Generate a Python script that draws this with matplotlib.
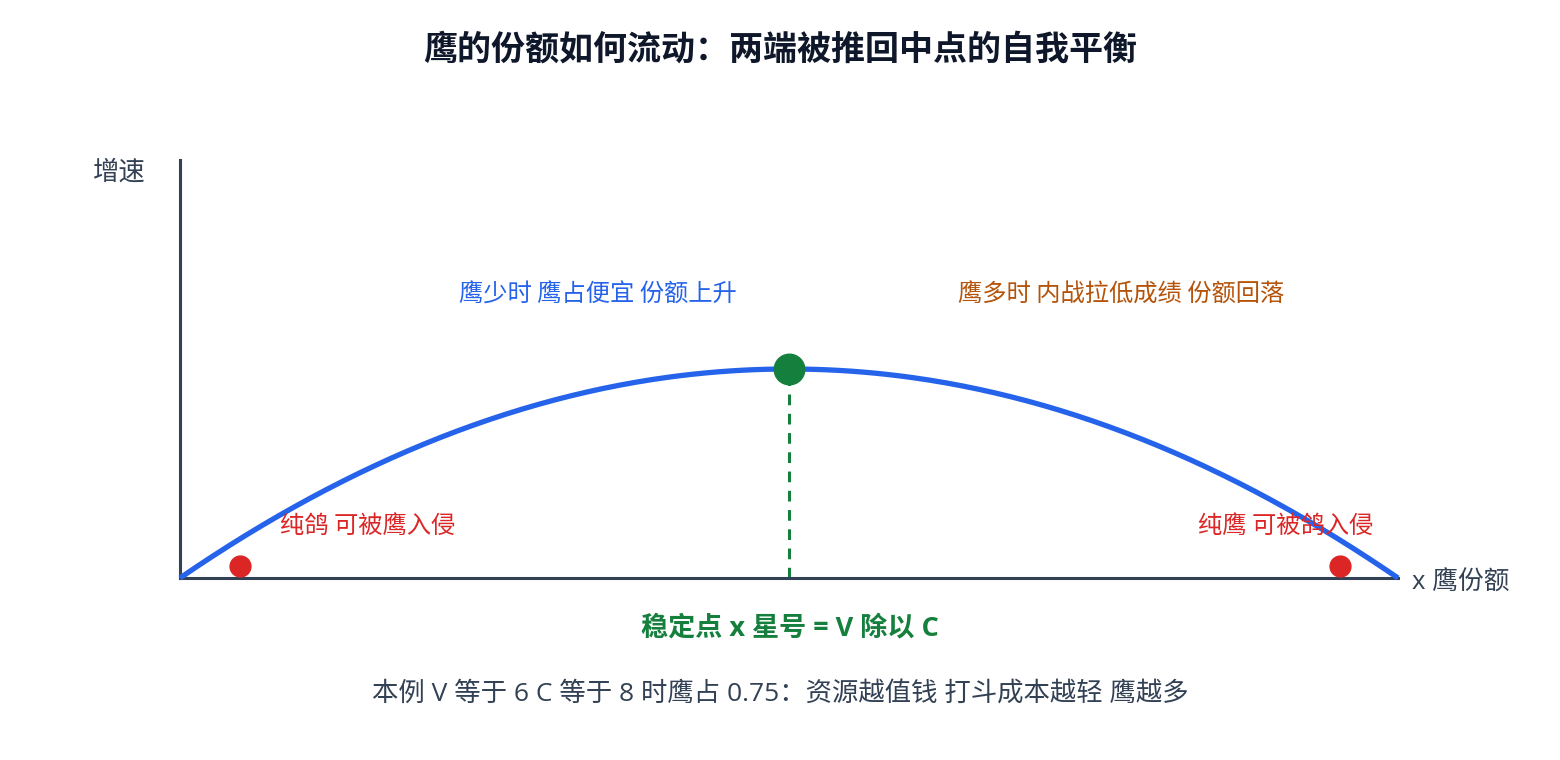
import numpy as np
import matplotlib.pyplot as plt

plt.rcParams['font.family'] = ['Noto Sans CJK SC', 'DejaVu Sans']
mixed = ['Open Sans', 'Noto Sans CJK SC']

# schematic curve: hawk share x vs growth rate (quadratic bezier control points)
curve_x = [0.0, 0.5, 1.0]
curve_ctrl_y = [0.0, 1.0, 0.0]
stable_x, stable_y = 0.5, 0.5
invade_x = [0.049, 0.952]
invade_y = [0.029, 0.029]

title = '鹰的份额如何流动：两端被推回中点的自我平衡'
note_low = '鹰少时 鹰占便宜 份额上升'
note_high = '鹰多时 内战拉低成绩 份额回落'
note_dove = '纯鸽 可被鹰入侵'
note_hawk = '纯鹰 可被鸽入侵'
stable_label = '稳定点 x 星号 = V 除以 C'
footer = '本例 V 等于 6 C 等于 8 时鹰占 0.75：资源越值钱 打斗成本越轻 鹰越多'

axis_c = '#334155'
blue = '#2563eb'
green = '#15803d'
red = '#dc2626'
orange = '#b45309'

fig = plt.figure(figsize=(15.6, 7.6), dpi=100)
ax = fig.add_axes([180 / 1560, 182 / 760, 1218 / 1560, 418 / 760])
ax.set_xlim(0, 1)
ax.set_ylim(0, 1)
for s in ['top', 'right']:
    ax.spines[s].set_visible(False)
for s in ['left', 'bottom']:
    ax.spines[s].set_color(axis_c)
    ax.spines[s].set_linewidth(2.2)
ax.set_xticks([])
ax.set_yticks([])

# quadratic bezier through the control points
t = np.linspace(0, 1, 300)
w = np.array([(1 - t) ** 2, 2 * t * (1 - t), t ** 2])
cx = np.array(curve_x) @ w
cy = np.array(curve_ctrl_y) @ w
ax.plot(cx, cy, color=blue, lw=3.8, solid_capstyle='butt', clip_on=False, zorder=3)

ax.plot([stable_x, stable_x], [0, stable_y], color=green, lw=2.2,
        dashes=(3.5, 2.8), zorder=2)
ax.plot(stable_x, stable_y, 'o', color=green, ms=22, zorder=4, clip_on=False)
ax.plot(invade_x, invade_y, 'o', color=red, ms=15, zorder=4, clip_on=False)

ax.text(0.343, 0.677, note_low, color=blue, fontsize=17.5, ha='center', va='center')
ax.text(0.773, 0.677, note_high, color=orange, fontsize=17.5, ha='center', va='center')
ax.text(0.082, 0.125, note_dove, color=red, fontsize=17.5, ha='left', va='center')
ax.text(0.980, 0.125, note_hawk, color=red, fontsize=17.5, ha='right', va='center')

fig.text(0.5, 0.935, title, fontsize=24.5, fontweight='bold', color='#0f172a',
         ha='center', va='center')
fig.text(119 / 1560, 0.774, '增速', fontsize=19, color=axis_c, ha='center', va='center')
fig.text(1412 / 1560, 0.232, 'x 鹰份额', fontsize=18.5, color=axis_c, ha='left',
         va='center', family=mixed)
fig.text(790 / 1560, 0.173, stable_label, fontsize=19.5, fontweight='bold', color=green,
         ha='center', va='center', family=mixed)
fig.text(0.5, 0.087, footer, fontsize=19, color=axis_c, ha='center', va='center',
         family=mixed)

fig.savefig('out.png', dpi=100)
